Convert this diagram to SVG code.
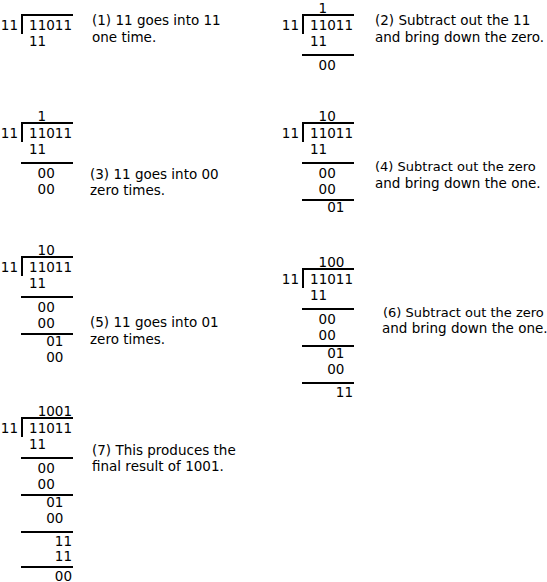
<svg xmlns="http://www.w3.org/2000/svg" width="547" height="582" viewBox="0 0 547 582">
<style>
text{font-family:"DejaVu Sans",sans-serif;font-size:13.5px;fill:#000}
.n{text-anchor:end}
.s{font-size:13px}
.r{stroke:#000;stroke-width:2;fill:none}
</style>
<rect width="547" height="582" fill="#fff"/>
<g id="step1">
<text class="n" x="18" y="30">11</text><text class="n" x="72" y="30">11011</text>
<path class="r" d="M22,34V15H73"/>
<text class="n" x="46.2" y="46">11</text>
<text x="92" y="25">(1) 11 goes into 11</text><text x="92" y="42">one time.</text>
</g>
<g id="step2" transform="translate(281,0)">
<text class="n" x="46.2" y="12.5">1</text>
<text class="n" x="18" y="30">11</text><text class="n" x="72" y="30">11011</text>
<path class="r" d="M22,34V15H73"/>
<text class="n" x="46.2" y="46">11</text>
<path class="r" d="M21,55H73"/>
<text class="n" x="54.8" y="70">00</text>
<text x="94" y="25">(2) Subtract out the 11</text><text x="94" y="42">and bring down the zero.</text>
</g>
<g id="step3" transform="translate(0,108)">
<text class="n" x="46.2" y="12.5">1</text>
<text class="n" x="18" y="30">11</text><text class="n" x="72" y="30">11011</text>
<path class="r" d="M22,34V15H73"/>
<text class="n" x="46.2" y="46">11</text>
<path class="r" d="M21,55H73"/>
<text class="n" x="54.8" y="70">00</text>
<text class="n" x="54.8" y="86">00</text>
<text x="90" y="71">(3) 11 goes into 00</text><text x="90" y="87">zero times.</text>
</g>
<g id="step4" transform="translate(281,108)">
<text class="n" x="54.8" y="12.5">10</text>
<text class="n" x="18" y="30">11</text><text class="n" x="72" y="30">11011</text>
<path class="r" d="M22,34V15H73"/>
<text class="n" x="46.2" y="46">11</text>
<path class="r" d="M21,55H73"/>
<text class="n" x="54.8" y="70">00</text>
<text class="n" x="54.8" y="86">00</text>
<path class="r" d="M21,92H73"/>
<text class="n" x="63.4" y="103.8">01</text>
<text class="s" x="94" y="63">(4) Subtract out the zero</text><text x="94" y="80">and bring down the one.</text>
</g>
<g id="step5" transform="translate(0,242)">
<text class="n" x="54.8" y="12.5">10</text>
<text class="n" x="18" y="30">11</text><text class="n" x="72" y="30">11011</text>
<path class="r" d="M22,34V15H73"/>
<text class="n" x="46.2" y="46">11</text>
<path class="r" d="M21,55H73"/>
<text class="n" x="54.8" y="70">00</text>
<text class="n" x="54.8" y="86">00</text>
<path class="r" d="M21,92H73"/>
<text class="n" x="63.4" y="103.8">01</text>
<text class="n" x="63.4" y="119.5">00</text>
<text x="90" y="85">(5) 11 goes into 01</text><text x="90" y="102">zero times.</text>
</g>
<g id="step6" transform="translate(281,254)">
<text class="n" x="63.4" y="12.5">100</text>
<text class="n" x="18" y="30">11</text><text class="n" x="72" y="30">11011</text>
<path class="r" d="M22,34V15H73"/>
<text class="n" x="46.2" y="46">11</text>
<path class="r" d="M21,55H73"/>
<text class="n" x="54.8" y="70">00</text>
<text class="n" x="54.8" y="86">00</text>
<path class="r" d="M21,92H73"/>
<text class="n" x="63.4" y="103.8">01</text>
<text class="n" x="63.4" y="119.5">00</text>
<path class="r" d="M21,129H73"/>
<text class="n" x="72" y="142.5">11</text>
<text class="s" x="102" y="63">(6) Subtract out the zero</text><text x="101" y="79">and bring down the one.</text>
</g>
<g id="step7" transform="translate(0,403)">
<text class="n" x="72" y="12.5">1001</text>
<text class="n" x="18" y="30">11</text><text class="n" x="72" y="30">11011</text>
<path class="r" d="M22,34V15H73"/>
<text class="n" x="46.2" y="46">11</text>
<path class="r" d="M21,55H73"/>
<text class="n" x="54.8" y="70">00</text>
<text class="n" x="54.8" y="86">00</text>
<path class="r" d="M21,92H73"/>
<text class="n" x="63.4" y="103.8">01</text>
<text class="n" x="63.4" y="119.5">00</text>
<path class="r" d="M21,129H73"/>
<text class="n" x="72" y="142.5">11</text>
<text class="n" x="72" y="158">11</text>
<path class="r" d="M21,164H73"/>
<text class="n" x="72" y="177.5">00</text>
<text x="92" y="52">(7) This produces the</text><text x="92" y="68">final result of 1001.</text>
</g>
</svg>
